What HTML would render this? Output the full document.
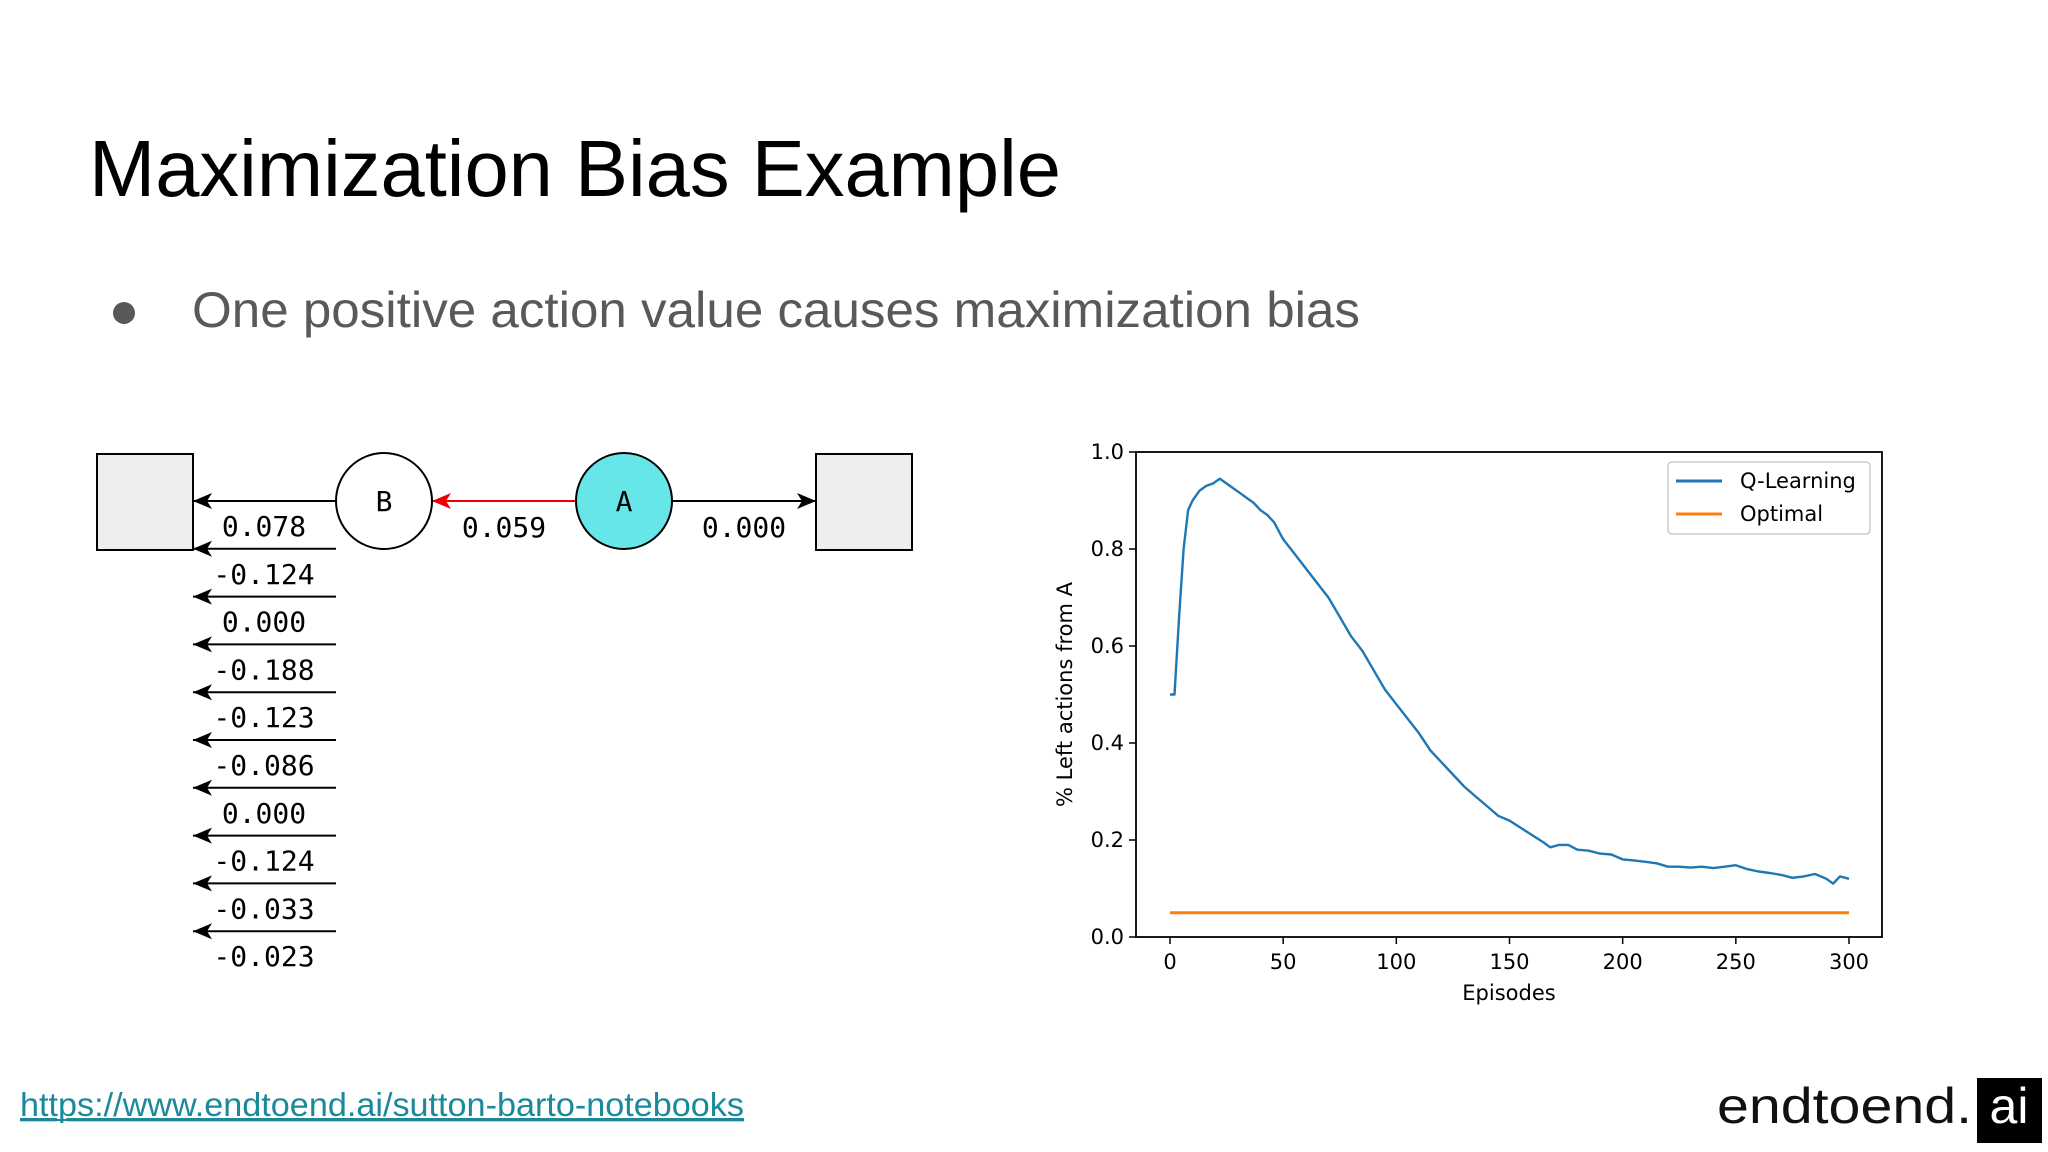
<!DOCTYPE html>
<html><head><meta charset="utf-8"><style>
html,body{margin:0;padding:0;background:#fff;}
svg{display:block;}
</style></head><body>
<svg id="page" width="2048" height="1152" viewBox="0 0 2048 1152" xmlns="http://www.w3.org/2000/svg" font-family="Liberation Sans, sans-serif">
<rect width="2048" height="1152" fill="#fff"/>
<text x="89" y="196" font-size="80" fill="#000" textLength="972" lengthAdjust="spacingAndGlyphs">Maximization Bias Example</text>
<circle cx="124" cy="313" r="11" fill="#595959"/>
<text x="192" y="327" font-size="50" fill="#595959" textLength="1168" lengthAdjust="spacingAndGlyphs">One positive action value causes maximization bias</text>

<g id="diagram" font-family="DejaVu Sans Mono, Liberation Mono, monospace" font-size="28" fill="#000">
<rect x="97" y="454" width="96" height="96" fill="#eee" stroke="#000" stroke-width="2"/>
<rect x="816" y="454" width="96" height="96" fill="#eee" stroke="#000" stroke-width="2"/>
<line x1="193" y1="501" x2="336" y2="501" stroke="#000" stroke-width="2"/>
<polygon points="193,501 212,493 207,501 212,509" fill="#000"/>
<line x1="432" y1="501" x2="576" y2="501" stroke="#e00" stroke-width="2"/>
<polygon points="432,501 451,493 446,501 451,509" fill="#e00"/>
<line x1="672" y1="501" x2="816" y2="501" stroke="#000" stroke-width="2"/>
<polygon points="816,501 797,493 802,501 797,509" fill="#000"/>
<ellipse cx="384" cy="501" rx="48" ry="48" fill="#fff" stroke="#000" stroke-width="2"/>
<text x="384" y="511" text-anchor="middle">B</text>
<ellipse cx="624" cy="501" rx="48" ry="48" fill="#66e6e8" stroke="#000" stroke-width="2"/>
<text x="624" y="511" text-anchor="middle">A</text>
<text x="504" y="537" text-anchor="middle">0.059</text>
<text x="744" y="537" text-anchor="middle">0.000</text>
</g>

<g id="chart" font-family="DejaVu Sans, sans-serif"></g>

<text x="20" y="1116" font-size="33" fill="#1a8a9a" text-decoration="underline" textLength="724" lengthAdjust="spacingAndGlyphs">https://www.endtoend.ai/sutton-barto-notebooks</text>
<line x1="20" y1="1120" x2="744" y2="1120" stroke="#1a8a9a" stroke-width="2"/>
<text x="1717" y="1123" font-size="50" fill="#111" textLength="255" lengthAdjust="spacingAndGlyphs">endtoend.</text>
<rect x="1977" y="1078" width="65" height="65" fill="#000"/>
<text x="2009" y="1123" font-size="50" fill="#fff" text-anchor="middle">ai</text>
</svg>
<script>
const bValues = ["0.078","-0.124","0.000","-0.188","-0.123","-0.086","0.000","-0.124","-0.033","-0.023"];
const episodes = [0,2,4,6,8,10,13,16,19,22,25,28,31,34,37,40,43,46,50,55,60,65,70,75,80,85,90,95,100,105,110,115,120,125,130,135,140,145,150,155,160,165,168,172,176,180,185,190,195,200,205,210,215,220,225,230,235,240,245,250,255,260,265,270,275,280,285,290,293,296,300];
const qValues = [0.50,0.50,0.66,0.80,0.88,0.90,0.92,0.93,0.935,0.945,0.935,0.925,0.915,0.905,0.895,0.88,0.87,0.855,0.82,0.79,0.76,0.73,0.70,0.66,0.62,0.59,0.55,0.51,0.48,0.45,0.42,0.385,0.36,0.335,0.31,0.29,0.27,0.25,0.24,0.225,0.21,0.195,0.185,0.19,0.19,0.18,0.178,0.172,0.17,0.16,0.158,0.155,0.152,0.145,0.145,0.143,0.145,0.142,0.145,0.148,0.14,0.135,0.132,0.128,0.122,0.125,0.13,0.12,0.11,0.125,0.12];
const optimalValue = 0.05;
const xTicks = [0,50,100,150,200,250,300];
const yTicks = [0.0,0.2,0.4,0.6,0.8,1.0];
const yTickLabels = ["0.0","0.2","0.4","0.6","0.8","1.0"];
const legendLabels = ["Q-Learning","Optimal"];

const NS = "http://www.w3.org/2000/svg";
function mk(tag, attrs, parent, txt){const e=document.createElementNS(NS,tag);for(const k in attrs)e.setAttribute(k,attrs[k]);if(txt!==undefined)e.textContent=txt;parent.appendChild(e);return e;}
const L=1136,R=1882,T=452,B=937;
const xs=v=>1170+(v/300)*(1849-1170);
const ys=v=>B-(v)*(B-T);
const chart=document.getElementById('chart');
const diagram=document.getElementById('diagram');

bValues.forEach((v,i)=>{
  const y=501+i*47.8;
  if(i>0){
    const ln=mk('line',{x1:193,y1:y,x2:336,y2:y,stroke:'#000','stroke-width':2},diagram);
    
    
    mk('polygon',{points:`193,${y} 212,${y-8} 207,${y} 212,${y+8}`,fill:'#000'},diagram);
  }
  const t=mk('text',{x:264,y:y+35,'text-anchor':'middle'},diagram,v);
  
  
});

const fr=mk('rect',{x:L,y:T,width:R-L,height:B-T,fill:'none',stroke:'#000','stroke-width':1.8},chart);


xTicks.forEach(v=>{
  const x=xs(v);
  mk('line',{x1:x,y1:B,x2:x,y2:B+7,stroke:'#000','stroke-width':1.5},chart);
  const t=mk('text',{x:x,y:B+32,'font-size':21,'text-anchor':'middle',fill:'#000'},chart,String(v));
  
  
});
yTicks.forEach((v,i)=>{
  const y=ys(v);
  mk('line',{x1:L-7,y1:y,x2:L,y2:y,stroke:'#000','stroke-width':1.5},chart);
  const t=mk('text',{x:L-12,y:y+7,'font-size':21,'text-anchor':'end',fill:'#000'},chart,yTickLabels[i]);
  
  
});
const xt=mk('text',{x:(L+R)/2+0,y:B+63,'font-size':21,'text-anchor':'middle',fill:'#000'},chart,'Episodes');


const yt=mk('text',{x:0,y:0,'font-size':21,'text-anchor':'middle',fill:'#000',transform:`translate(1072,${(T+B)/2}) rotate(-90)`},chart,'% Left actions from A');



const d=episodes.map((e,i)=>(i?'L':'M')+xs(e).toFixed(1)+','+ys(qValues[i]).toFixed(1)).join(' ');
const ql=mk('path',{d:d,fill:'none',stroke:'#1f77b4','stroke-width':2.4,'stroke-linejoin':'round'},chart);


const ol=mk('line',{x1:xs(0),y1:ys(optimalValue),x2:xs(300),y2:ys(optimalValue),stroke:'#ff7f0e','stroke-width':3},chart);



const lg=mk('rect',{x:1668,y:462,width:202,height:72,rx:4,fill:'#fff',stroke:'#ccc','stroke-width':1.5},chart);


const cols=['#1f77b4','#ff7f0e'];
legendLabels.forEach((lab,i)=>{
  const y=481+i*33;
  mk('line',{x1:1676,y1:y,x2:1722,y2:y,stroke:cols[i],'stroke-width':3},chart);
  const t=mk('text',{x:1740,y:y+7,'font-size':21,fill:'#000'},chart,lab);
  
  
});
</script>
</body></html>
